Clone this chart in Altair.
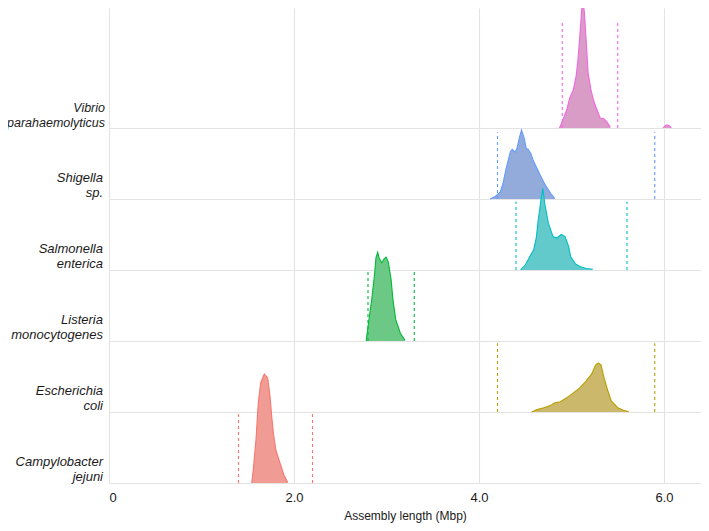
import altair as alt
import pandas as pd

# ---- data ----
species = ["Campylobacter jejuni", "Escherichia coli", "Listeria monocytogenes",
           "Salmonella enterica", "Shigella sp.", "Vibrio parahaemolyticus"]
label_lines = ["Campylobacter\njejuni", "Escherichia\ncoli", "Listeria\nmonocytogenes",
               "Salmonella\nenterica", "Shigella\nsp.", "Vibrio\nparahaemolyticus"]
line_colors = ["#F8766D", "#B79F00", "#00BA38", "#00BFC4", "#619CFF", "#F564E3"]
fill_colors = ["#F09C95", "#CBB86A", "#6CC985", "#62CACB", "#92ABDA", "#D99CC6"]
cut_low = [1.40, 4.20, 2.80, 4.40, 4.20, 4.90]
cut_high = [2.20, 5.90, 3.30, 5.60, 5.90, 5.50]
cut_height = [1.0, 0.97, 1.0, 0.96, 0.94, 1.5]

campy_x = [1.543, 1.56, 1.589, 1.614, 1.64, 1.679, 1.715, 1.74, 1.759, 1.777, 1.805, 1.849, 1.892, 1.932]
campy_h = [0.0, 0.19, 0.61, 1.13, 1.41, 1.535, 1.48, 1.23, 0.94, 0.70, 0.46, 0.28, 0.11, 0.01]

ecoli_x = [4.57, 4.62, 4.70, 4.77, 4.82, 4.88, 4.91, 4.97, 5.02, 5.09, 5.16, 5.22, 5.26, 5.29,
           5.32, 5.35, 5.39, 5.43, 5.50, 5.56, 5.62]
ecoli_h = [0.0, 0.03, 0.06, 0.09, 0.13, 0.145, 0.17, 0.22, 0.27, 0.34, 0.44, 0.54, 0.66, 0.69,
           0.66, 0.49, 0.31, 0.155, 0.06, 0.024, 0.004]

listeria_x = [2.78, 2.81, 2.84, 2.87, 2.886, 2.905, 2.92, 2.95, 2.97, 2.995, 3.02, 3.05, 3.07, 3.10, 3.15, 3.20]
listeria_h = [0.0, 0.30, 0.58, 0.93, 1.17, 1.25, 1.17, 1.10, 1.15, 1.18, 1.11, 0.86, 0.58, 0.30, 0.11, 0.01]

salmonella_x = [4.45, 4.50, 4.55, 4.59, 4.62, 4.64, 4.67, 4.69, 4.71, 4.75, 4.80, 4.84, 4.89, 4.93,
                4.97, 4.99, 5.04, 5.09, 5.16, 5.23]
salmonella_h = [0.0, 0.07, 0.19, 0.28, 0.46, 0.70, 0.99, 1.15, 0.94, 0.66, 0.47, 0.45, 0.50, 0.47,
                0.33, 0.19, 0.09, 0.05, 0.02, 0.01]

shigella_x = [4.12, 4.17, 4.23, 4.26, 4.29, 4.32, 4.34, 4.36, 4.39, 4.41, 4.44, 4.46, 4.49, 4.51,
              4.53, 4.56, 4.59, 4.62, 4.66, 4.70, 4.73, 4.78, 4.82]
shigella_h = [0.0, 0.03, 0.10, 0.22, 0.41, 0.57, 0.67, 0.70, 0.66, 0.71, 0.88, 0.97, 0.85, 0.71,
              0.70, 0.64, 0.53, 0.45, 0.34, 0.24, 0.17, 0.07, 0.005]

vibrio_x = [4.87, 4.90, 4.95, 4.98, 5.02, 5.05, 5.07, 5.09, 5.11, 5.12, 5.14, 5.16, 5.18, 5.21,
            5.24, 5.28, 5.31, 5.35, 5.38, 5.42]
vibrio_h = [0.0, 0.09, 0.26, 0.42, 0.54, 0.73, 0.96, 1.29, 1.66, 1.83, 1.62, 1.20, 0.77, 0.54,
            0.38, 0.24, 0.14, 0.13, 0.09, 0.01]
vibrio_blip_x = [5.99, 6.01, 6.03, 6.06, 6.08]
vibrio_blip_h = [0.0, 0.03, 0.045, 0.03, 0.0]

x_ticks = [0, 2, 4, 6]

curves = [
    [(campy_x, campy_h)],
    [(ecoli_x, ecoli_h)],
    [(listeria_x, listeria_h)],
    [(salmonella_x, salmonella_h)],
    [(shigella_x, shigella_h)],
    [(vibrio_x, vibrio_h), (vibrio_blip_x, vibrio_blip_h)],
]

FONT = "Liberation Sans"
W, H = 592, 475
YMAX = 6.69

xscale = alt.Scale(domain=[0, 6.4], nice=False, zero=False)
yscale = alt.Scale(domain=[0, YMAX], nice=False, zero=False)

layers = []

# background grid layer (axes)
grid_df = pd.DataFrame({"x": [0.0], "y": [0.0]})
base_axes = alt.Chart(grid_df).mark_point(opacity=0).encode(
    x=alt.X("x:Q", scale=xscale,
            axis=alt.Axis(values=x_ticks, title="Assembly length (Mbp)", grid=True,
                          ticks=False, tickSize=0, domain=False, labelPadding=8,
                          labelExpr="datum.value == 0 ? '0' : format(datum.value, '.1f')",
                          labelFont=FONT, labelFontSize=13, labelColor="#1a1a1a",
                          titleFont=FONT, titleFontSize=12, titleFontWeight="normal",
                          titleColor="#1a1a1a", titlePadding=6,
                          gridColor="#E3E3E3", gridWidth=1.1)),
    y=alt.Y("y:Q", scale=yscale,
            axis=alt.Axis(values=[0, 1, 2, 3, 4, 5], title=None, labels=False, ticks=False,
                          domain=False, grid=True, gridColor="#E3E3E3", gridWidth=1.1)),
)
layers.append(base_axes)

# ridges: top (Vibrio) first so lower ridges are drawn in front
for i in reversed(range(len(species))):
    rows = []
    for s, (xs, hs) in enumerate(curves[i]):
        for xv, hv in zip(xs, hs):
            rows.append({"x": xv, "ytop": i + hv, "ybase": float(i), "seg": s})
    df = pd.DataFrame(rows)
    area = alt.Chart(df).mark_area(fill=fill_colors[i], fillOpacity=1, clip=True).encode(
        x=alt.X("x:Q", scale=xscale),
        y=alt.Y("ytop:Q", scale=yscale, stack=None),
        y2=alt.Y2("ybase:Q"),
        detail="seg:N",
    )
    line = alt.Chart(df).mark_line(color=line_colors[i], strokeWidth=1.1, clip=True).encode(
        x=alt.X("x:Q", scale=xscale),
        y=alt.Y("ytop:Q", scale=yscale),
        detail="seg:N",
        order="x:Q",
    )
    layers += [area, line]

# dashed cutoff lines
cut_rows = []
for i in range(len(species)):
    for xv in (cut_low[i], cut_high[i]):
        cut_rows.append({"species": species[i], "x": xv, "y0": float(i),
                         "y1": i + cut_height[i], "col": line_colors[i]})
cut_df = pd.DataFrame(cut_rows)
rules = alt.Chart(cut_df).mark_rule(strokeDash=[3, 3], strokeWidth=1.1).encode(
    x=alt.X("x:Q", scale=xscale),
    y=alt.Y("y0:Q", scale=yscale),
    y2="y1:Q",
    color=alt.Color("col:N", scale=None, legend=None),
)
layers.append(rules)

# italic species labels (the long Vibrio label slightly smaller so it fits the page)
lab_df = pd.DataFrame({"label": label_lines[:5],
                       "pos": [float(i) for i in range(5)]})
labels = alt.Chart(lab_df).mark_text(
    align="right", baseline="bottom", fontStyle="italic", font=FONT, fontSize=13,
    lineBreak="\n", lineHeight=15, color="#1a1a1a", dy=-14,
).encode(
    x=alt.value(-6),
    y=alt.Y("pos:Q", scale=yscale),
    text="label:N",
)
layers.append(labels)

vib_df = pd.DataFrame({"label": label_lines[5:], "pos": [5.0]})
vib_label = alt.Chart(vib_df).mark_text(
    align="right", baseline="bottom", fontStyle="italic", font=FONT, fontSize=12.5,
    lineBreak="\n", lineHeight=15, color="#1a1a1a", dy=-13,
).encode(
    x=alt.value(-4),
    y=alt.Y("pos:Q", scale=yscale),
    text="label:N",
)
layers.append(vib_label)

chart = alt.layer(*layers).properties(
    width=W, height=H,
    autosize=alt.AutoSizeParams(type="none"),
    padding={"left": 101, "top": 0, "right": 0, "bottom": 40},
).configure(background="white").configure_view(stroke=None)

chart.save("out.html", embed_options={"renderer": "svg", "actions": False})
